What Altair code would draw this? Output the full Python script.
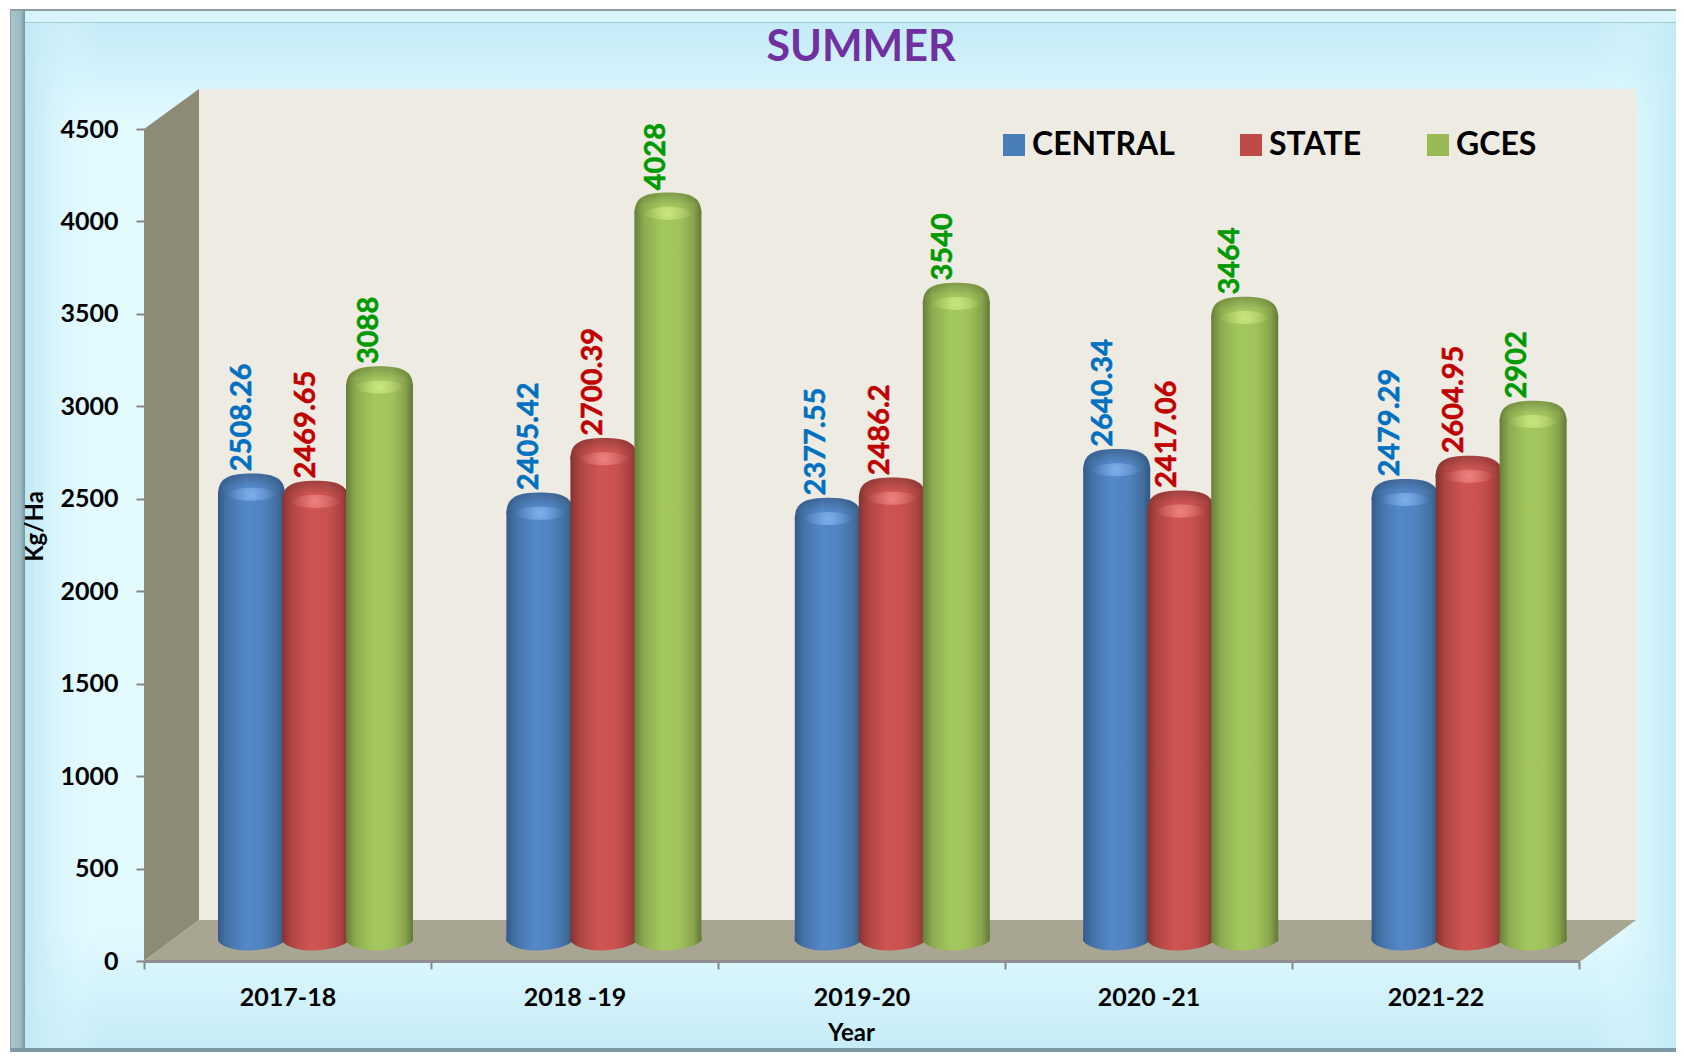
import altair as alt
import pandas as pd

years = ["2017-18", "2018 -19", "2019-20", "2020 -21", "2021-22"]
series = ["CENTRAL", "STATE", "GCES"]
central = [2508.26, 2405.42, 2377.55, 2640.34, 2479.29]
state = [2469.65, 2700.39, 2486.2, 2417.06, 2604.95]
gces = [3088, 4028, 3540, 3464, 2902]
y_ticks = [0, 500, 1000, 1500, 2000, 2500, 3000, 3500, 4000, 4500]
flat_colors = ["#4A7EBB", "#BE4B48", "#98B954"]
label_colors = ["#0070C0", "#C00000", "#009900"]
shades = {
    "CENTRAL": ["#335A8C", "#4573A8", "#5488C9", "#5182BF", "#43709F", "#2F5683"],
    "STATE": ["#843331", "#AE4542", "#CF5552", "#C8524F", "#AB4341", "#7E3230"],
    "GCES": ["#667F38", "#8CAB4F", "#A4C860", "#A0C25D", "#88A44C", "#617A36"],
}
lights = {"CENTRAL": "#86B6F2", "STATE": "#F48A86", "GCES": "#CFEC86"}

W, H = 1668, 1044
FONT = "Lato"

df = pd.DataFrame(
    [
        {"year": y, "series": s, "v": v}
        for s, vals in zip(series, [central, state, gces])
        for y, v in zip(years, vals)
    ]
)

x_axis_scale = alt.Scale(domain=years, range=[136, 1571], paddingInner=0, paddingOuter=0)
x_bar_scale = alt.Scale(domain=years, range=[136, 1578], paddingInner=0, paddingOuter=0)
y_scale = alt.Scale(domain=[0, 4500], range=[953, 121], nice=False)
off_scale = alt.Scale(domain=series, range=[75.5, 267.5], paddingInner=0, paddingOuter=0)
X = alt.X("year:N", scale=x_bar_scale, sort=years, axis=None)
X_LABEL = alt.X("year:N", scale=x_axis_scale, sort=years, axis=None)
Y = alt.Y("v:Q", scale=y_scale, axis=None)
XO = alt.XOffset("series:N", scale=off_scale, sort=series)


def linear(stops, horizontal=True):
    g = {
        "gradient": "linear",
        "stops": [{"offset": o, "color": c} for o, c in stops],
    }
    if horizontal:
        g.update(x1=0, x2=1, y1=0, y2=0)
    else:
        g.update(x1=0, x2=0, y1=0, y2=1)
    return g


def box(x, x2, y, y2, fill):
    return (
        alt.Chart(pd.DataFrame({"a": [0]}))
        .mark_rect(fill=fill)
        .encode(x=alt.value(x), x2=alt.value(x2), y=alt.value(y), y2=alt.value(y2))
    )


# ---- frame and panel background
frame = [
    box(2, W, 1, H, "#8E9EA2"),
    box(3, W, 3, H, linear([(0, "#D6F4FA"), (1, "#EAFCFF")], horizontal=False)),
    box(3, 17, 3, H, linear([(0, "#A8C6CE"), (0.7, "#9CBAC2"), (1, "#6F97A2")])),
    box(17, W, 14, 16, "#A6CAD4"),
    box(
        17, W, 15, 1040,
        linear([(0, "#C4EBF7"), (0.1, "#E3FAFF"), (0.88, "#E3FAFF"), (1, "#C6ECF7")], horizontal=False),
    ),
    box(
        17, W, 15, 1040,
        linear([(0, "#C2E9F5"), (0.045, "#E3FAFF00"), (0.95, "#E3FAFF00"), (1, "#C2EBF6")]),
    ),
    box(3, W, 1040, H, "#7C9AA3"),
]

# ---- 3-D walls, in pixels of the picture (decoration, no data)
wall_side = (
    alt.Chart(pd.DataFrame({"px": [136, 191], "top": [121, 81], "bot": [953, 912]}))
    .mark_area(fill="#8D8B78", opacity=1)
    .encode(
        x=alt.X("px:Q", scale=None, axis=None),
        y=alt.Y("top:Q", scale=None, axis=None),
        y2="bot:Q",
    )
)
wall_back = box(191, 1628, 81, 912, "#EEEBE3")
wall_floor = (
    alt.Chart(pd.DataFrame({"py": [953, 912], "left": [136, 191], "right": [1573, 1628]}))
    .mark_area(fill="#A8A592", opacity=1, orient="horizontal")
    .encode(
        y=alt.Y("py:Q", scale=None, axis=None),
        x=alt.X("left:Q", scale=None, axis=None),
        x2="right:Q",
    )
)

# ---- axes and legend: this layer's own bars stay invisible
base = (
    alt.Chart(df)
    .mark_bar(opacity=0)
    .encode(
        x=alt.X(
            "year:N",
            scale=x_axis_scale,
            sort=years,
            axis=alt.Axis(
                title="Year",
                titleFont=FONT,
                titleFontSize=24,
                titleFontWeight="bold",
                titleColor="black",
                titleX=843,
                titleY=60,
                labelFont=FONT,
                labelFontSize=25,
                labelFontWeight="bold",
                labelColor="black",
                labelAngle=0,
                labelPadding=16,
                tickBand="extent",
                tickSize=8,
                tickWidth=2,
                tickColor="#868686",
                domainColor="#8F8D8F",
                domainWidth=3,
                offset=-91,
                zindex=1,
                grid=False,
            ),
        ),
        xOffset=XO,
        y=alt.Y(
            "v:Q",
            scale=y_scale,
            axis=alt.Axis(
                title="Kg/Ha",
                titleFont=FONT,
                titleFontSize=24,
                titleFontWeight="bold",
                titleColor="black",
                titleX=-97,
                titleY=518,
                titleAngle=270,
                values=y_ticks,
                format="d",
                labelFont=FONT,
                labelFontSize=25,
                labelFontWeight="bold",
                labelColor="black",
                labelPadding=18,
                tickSize=8,
                tickWidth=2,
                tickColor="#868686",
                domain=False,
                offset=-136,
                zindex=1,
                grid=False,
            ),
        ),
        color=alt.Color(
            "series:N",
            scale=alt.Scale(domain=series, range=flat_colors),
            legend=alt.Legend(
                title=None,
                orient="none",
                direction="horizontal",
                legendX=990,
                legendY=121,
                columns=3,
                columnPadding=60,
                symbolType="square",
                symbolSize=484,
                symbolStrokeWidth=0,
                symbolOpacity=1,
                labelFont=FONT,
                labelFontSize=32,
                labelFontWeight="bold",
                labelColor="black",
                labelOffset=2,
                padding=0,
                labelLimit=400,
            ),
        ),
    )
)

BOTTOM = "M-1,0 C-0.82,0.22 -0.42,0.29 -0.05,0.28 C0.45,0.27 0.82,0.15 1,0 L1,-0.2 L-1,-0.2 Z"
DOME = "M-1,0.38 C-1,-0.12 -0.7,-0.26 0,-0.26 C0.7,-0.26 1,-0.12 1,0.38 C0.7,0.46 -0.7,0.46 -1,0.38 Z"
TOPCAP = "M-0.92,0.04 C-0.8,-0.14 -0.5,-0.26 0,-0.26 C0.5,-0.26 0.8,-0.14 0.92,0.04 C0.6,0.16 -0.6,0.16 -0.92,0.04 Z"
SPOT = "M-0.75,0 C-0.6,-0.26 0.6,-0.26 0.75,0 C0.6,0.26 -0.6,0.26 -0.75,0 Z"
BAR_W = 67
SIZE = BAR_W * BAR_W

cylinders = []
for s in series:
    st = shades[s]
    body_fill = linear(
        [(0, st[0]), (0.14, st[1]), (0.42, st[2]), (0.68, st[3]), (0.88, st[4]), (1, st[5])]
    )
    row = alt.Chart(df).transform_filter(alt.datum.series == s)
    bottom = row.mark_point(
        shape=BOTTOM, filled=True, fill=body_fill, size=SIZE, opacity=1, strokeWidth=0, yOffset=-20
    ).encode(x=X, xOffset=XO, y=alt.Y(datum=0, scale=y_scale, axis=None))
    body = row.mark_bar(fill=body_fill, width=BAR_W, yOffset=-5, y2Offset=-20).encode(
        x=X, xOffset=XO, y=Y, y2=alt.datum(0)
    )
    dome = row.mark_point(
        shape=DOME, filled=True, fill=body_fill, size=SIZE, opacity=1, strokeWidth=0, yOffset=-15
    ).encode(x=X, xOffset=XO, y=Y)
    top = row.mark_point(
        shape=TOPCAP,
        filled=True,
        fill=linear([(0, "#00000038"), (1, "#00000000")], horizontal=False),
        size=SIZE,
        opacity=1,
        strokeWidth=0,
        yOffset=-15,
    ).encode(x=X, xOffset=XO, y=Y)
    spot = row.mark_point(
        shape=SPOT,
        filled=True,
        fill={
            "gradient": "radial",
            "x1": 0.5, "y1": 0.5, "r1": 0, "x2": 0.5, "y2": 0.5, "r2": 0.5,
            "stops": [
                {"offset": 0, "color": lights[s] + "D8"},
                {"offset": 0.45, "color": lights[s] + "70"},
                {"offset": 1, "color": lights[s] + "00"},
            ],
        },
        size=SIZE,
        opacity=1,
        strokeWidth=0,
        yOffset=-3,
    ).encode(x=X, xOffset=XO, y=Y)
    cylinders += [bottom, body, dome, top, spot]

labels = []
for s, c, shift in zip(series, label_colors, (-46, 18.5, 81)):
    labels.append(
        alt.Chart(df)
        .transform_filter(alt.datum.series == s)
        .mark_text(
            angle=270,
            align="left",
            baseline="middle",
            font=FONT,
            fontWeight="bold",
            fontSize=29,
            color=c,
            stroke=c,
            strokeWidth=0.5,
            dx=26,
            dy=shift,
        )
        .encode(x=X_LABEL, y=Y, text=alt.Text("v:Q"))
    )

bars = alt.layer(*cylinders)
label_layer = alt.layer(*labels)

chart = (
    alt.layer(*frame, wall_side, wall_back, wall_floor, base, bars, label_layer)
    .resolve_scale(x="independent", y="independent", xOffset="independent")
    .properties(
        width=W,
        height=H,
        padding=0,
        autosize=alt.AutoSizeParams(type="none"),
        background="white",
        title=alt.TitleParams(
            "SUMMER",
            font=FONT,
            fontSize=43,
            fontWeight="bold",
            color="#7030A0",
            anchor="start",
            frame="group",
            align="center",
            dx=853,
            dy=62,
            offset=0,
        ),
    )
    .configure_view(stroke=None)
)

chart.save("out.html", embed_options={"renderer": "svg", "actions": False})
